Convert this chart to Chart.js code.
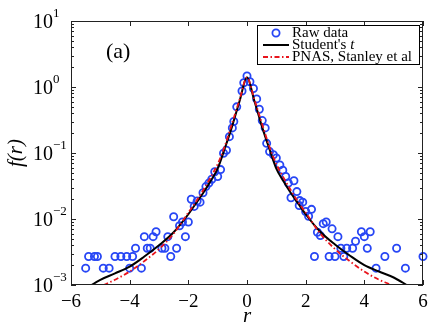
<!DOCTYPE html>
<html>
<head>
<meta charset="utf-8">
<script src="https://cdn.jsdelivr.net/npm/chart.js@4"></script>
<style>
  html, body { margin: 0; padding: 0; background: #fff; }
  #wrap { width: 436px; height: 325px; }
</style>
</head>
<body>
<div id="wrap"><canvas id="c" width="436" height="325"></canvas></div>
<script>
// raw data (circles)
const rawX = [-5.5, -5.4, -5.2, -5.1, -4.9, -4.7, -4.5, -4.3, -4.1, -4.0, -3.9, -3.8, -3.6, -3.5, -3.4,
  -3.3, -3.2, -3.1, -2.9, -2.8, -2.7, -2.6, -2.5, -2.4, -2.3, -2.2, -2.1, -2.0, -1.9, -1.8, -1.7,
  -1.6, -1.5, -1.4, -1.3, -1.2, -1.1, -1.0, -0.9, -0.8, -0.7, -0.6, -0.5, -0.45, -0.35, -0.17, -0.11,
  0, 0.1, 0.22, 0.33, 0.42, 0.52, 0.62, 0.67, 0.77, 0.9, 1.0, 1.12, 1.22, 1.32, 1.41, 1.5, 1.6,
  1.7, 1.78, 1.8, 1.9, 2.0, 2.1, 2.2, 2.3, 2.4, 2.5, 2.6, 2.7, 2.8, 2.9, 3.0, 3.1, 3.2, 3.3, 3.4,
  3.6, 3.7, 3.9, 4.0, 4.1, 4.2, 4.4, 4.7, 5.1, 5.4, 6.0];
const rawY = [0.0018, 0.0027, 0.0027, 0.0027, 0.0018, 0.0018, 0.0027, 0.0027, 0.0027, 0.0018, 0.0027,
  0.0036, 0.0018, 0.0054, 0.0036, 0.0036, 0.0054, 0.0064, 0.0036, 0.0036, 0.0054, 0.0027, 0.0108,
  0.0036, 0.0079, 0.009, 0.0054, 0.009, 0.0199, 0.0155, 0.0187, 0.018, 0.025, 0.031, 0.035, 0.04,
  0.052, 0.044, 0.056, 0.099, 0.11, 0.177, 0.24, 0.3, 0.5, 0.87, 1.16, 1.47, 1.2, 0.95, 0.66, 0.46,
  0.31, 0.24, 0.14, 0.105, 0.094, 0.084, 0.066, 0.055, 0.044, 0.035, 0.021, 0.038, 0.026, 0.016,
  0.019, 0.018, 0.013, 0.011, 0.014, 0.0027, 0.0063, 0.0056, 0.0085, 0.009, 0.0027, 0.0071, 0.0027,
  0.0054, 0.0036, 0.0027, 0.0036, 0.0036, 0.0046, 0.0064, 0.0054, 0.0036, 0.0064, 0.0018, 0.0027,
  0.0036, 0.0018, 0.0027];

// fitted curves, read at these r values
const curveX = [-5.5, -5, -4.5, -4, -3.5, -3, -2.5, -2, -1.75, -1.5, -1.25, -1, -0.75, -0.5, -0.25, 0,
  0.25, 0.5, 0.75, 1, 1.25, 1.5, 1.75, 2, 2.5, 3, 3.5, 4, 4.5, 5, 5.5];
const studentY = [0.00088, 0.0012, 0.0015, 0.0019, 0.0027, 0.004, 0.0063, 0.0118, 0.017, 0.0245,
  0.037, 0.058, 0.12, 0.26, 0.62, 1.4, 0.62, 0.26, 0.12, 0.058, 0.037, 0.0245, 0.017, 0.0118, 0.0064,
  0.0041, 0.0028, 0.002, 0.0016, 0.0013, 0.00097];
const pnasY = [0.0006, 0.00093, 0.0012, 0.0016, 0.0023, 0.0035, 0.006, 0.0125, 0.018, 0.027, 0.042,
  0.068, 0.13, 0.29, 0.65, 1.4, 0.65, 0.29, 0.13, 0.068, 0.042, 0.027, 0.018, 0.0125, 0.006, 0.0035,
  0.0023, 0.0016, 0.0012, 0.00095, 0.0006];

const xTicks = [-6, -4, -2, 0, 2, 4, 6];
const yTickExps = [-3, -2, -1, 0, 1];
const legendLabels = ['Raw data', "Student's ", 'PNAS, Stanley et al'];

const SERIF = '"Liberation Serif", "DejaVu Serif", serif';
const BLUE = '#2746f5';

const pts = (xs, ys) => xs.map((x, i) => ({ x, y: ys[i] }));

// frame, inner ticks, tick labels, axis titles and legend
const decor = {
  id: 'decor',
  afterDraw(ch) {
    const { ctx, chartArea: a, scales: { x, y } } = ch;
    ctx.save();
    ctx.strokeStyle = '#222';
    ctx.lineWidth = 1;
    ctx.strokeRect(a.left + 0.5, a.top + 0.5, a.right - a.left - 1, a.bottom - a.top - 1);

    ctx.beginPath();
    for (const t of xTicks) {
      const px = Math.round(x.getPixelForValue(t)) + 0.5;
      ctx.moveTo(px, a.bottom); ctx.lineTo(px, a.bottom - 5);
      ctx.moveTo(px, a.top); ctx.lineTo(px, a.top + 5);
    }
    for (let e = -3; e < 1; e++) {
      for (let m = 1; m <= 9; m++) {
        const py = Math.round(y.getPixelForValue(m * Math.pow(10, e))) + 0.5;
        const len = m === 1 ? 5 : 3;
        ctx.moveTo(a.left, py); ctx.lineTo(a.left + len, py);
        ctx.moveTo(a.right, py); ctx.lineTo(a.right - len, py);
      }
    }
    ctx.stroke();

    ctx.fillStyle = '#000';
    ctx.font = '19px ' + SERIF;
    ctx.textAlign = 'center';
    ctx.textBaseline = 'alphabetic';
    for (const t of xTicks) {
      const lbl = t < 0 ? '\u2212' + Math.abs(t) : String(t);
      ctx.fillText(lbl, x.getPixelForValue(t), a.bottom + 22);
    }
    for (const e of yTickExps) {
      const py = y.getPixelForValue(Math.pow(10, e));
      ctx.font = '20px ' + SERIF;
      ctx.textAlign = 'right';
      ctx.fillText('10', 53, py + 7);
      ctx.font = '13px ' + SERIF;
      ctx.textAlign = 'left';
      ctx.fillText(e < 0 ? '\u2212' + Math.abs(e) : String(e), 53, py - 4);
    }

    // axis titles
    ctx.font = 'italic 21px ' + SERIF;
    ctx.textAlign = 'center';
    ctx.fillText('r', (a.left + a.right) / 2, 322);
    ctx.save();
    ctx.translate(22, (a.top + a.bottom) / 2);
    ctx.rotate(-Math.PI / 2);
    ctx.fillText('f(r)', 0, 0);
    ctx.restore();

    ctx.font = '22px ' + SERIF;
    ctx.textAlign = 'left';
    ctx.fillText('(a)', 106, 58);

    // legend box
    const L = 257, T = 25, R = 419, B = 64;
    ctx.fillStyle = '#fff';
    ctx.fillRect(L, T, R - L, B - T);
    ctx.strokeStyle = '#000';
    ctx.strokeRect(L + 0.5, T + 0.5, R - L, B - T);
    const rows = [33, 45, 57];
    ctx.strokeStyle = BLUE; ctx.lineWidth = 1.8;
    ctx.beginPath(); ctx.arc(276, rows[0], 3.6, 0, Math.PI * 2); ctx.stroke();
    ctx.strokeStyle = '#000'; ctx.lineWidth = 2;
    ctx.beginPath(); ctx.moveTo(263, rows[1]); ctx.lineTo(289, rows[1]); ctx.stroke();
    ctx.strokeStyle = '#e8141c'; ctx.lineWidth = 1.8; ctx.setLineDash([5, 2.5, 1.5, 2.5]);
    ctx.beginPath(); ctx.moveTo(263, rows[2]); ctx.lineTo(289, rows[2]); ctx.stroke();
    ctx.setLineDash([]);
    ctx.fillStyle = '#000';
    ctx.font = '15px ' + SERIF;
    ctx.textBaseline = 'middle';
    ctx.fillText(legendLabels[0], 292, rows[0]);
    ctx.fillText(legendLabels[1], 292, rows[1]);
    const w = ctx.measureText(legendLabels[1]).width;
    ctx.font = 'italic 15px ' + SERIF;
    ctx.fillText('t', 292 + w, rows[1]);
    ctx.font = '15px ' + SERIF;
    ctx.fillText(legendLabels[2], 292, rows[2]);
    ctx.restore();
  }
};

new Chart(document.getElementById('c'), {
  type: 'scatter',
  data: {
    datasets: [
      { label: 'Raw data', data: pts(rawX, rawY), order: 3, clip: false,
        pointStyle: 'circle', pointRadius: 3.6, borderWidth: 1.8,
        borderColor: BLUE, backgroundColor: 'rgba(0,0,0,0)', showLine: false },
      { label: "Student's t", data: pts(curveX, studentY), order: 2, showLine: true,
        borderColor: '#000', borderWidth: 2, pointRadius: 0, cubicInterpolationMode: 'monotone' },
      { label: 'PNAS, Stanley et al', data: pts(curveX, pnasY), order: 1, showLine: true,
        borderColor: '#e8141c', borderWidth: 1.8, borderDash: [5, 2.5, 1.5, 2.5], pointRadius: 0,
        cubicInterpolationMode: 'monotone' },
    ]
  },
  options: {
    responsive: false, animation: false, devicePixelRatio: 1,
    layout: { padding: { left: 71, right: 13, top: 21, bottom: 40 } },
    plugins: { legend: { display: false }, tooltip: { enabled: false } },
    scales: {
      x: { type: 'linear', min: -6, max: 6, display: false },
      y: { type: 'logarithmic', min: 0.001, max: 10, display: false },
    }
  },
  plugins: [decor]
});
</script>
</body>
</html>
